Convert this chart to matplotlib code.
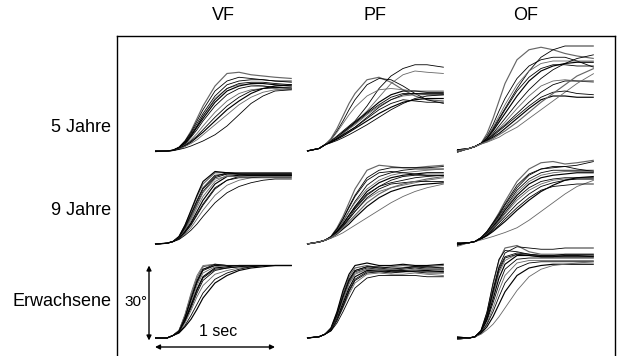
import matplotlib
matplotlib.use("Agg")
import matplotlib.pyplot as plt
from matplotlib.lines import Line2D

plt.rcParams['font.family'] = ['Liberation Sans', 'DejaVu Sans']

# ---------------- data ----------------
columns = ["VF", "PF", "OF"]
rows = ["5 Jahre", "9 Jahre", "Erwachsene"]

# time samples (s)
T = [0, 0.1, 0.15, 0.2, 0.25, 0.3, 0.35, 0.4, 0.5, 0.6, 0.7, 0.8, 0.9, 1.0, 1.14]

# angle traces (deg), one list per trial
VF_5 = [
    [0, 0, 0.3, 1.5, 4, 8, 13, 18, 26, 31, 31.5, 30.5, 30, 29.5, 29],
    [0, 0, 0.3, 1.5, 4, 7.5, 12, 16.5, 24, 28, 29.5, 29, 28.5, 28, 27.5],
    [-0.3, 0, 0.4, 1.5, 3.5, 7, 11, 15, 22, 26.5, 28, 28.5, 28.5, 28, 28],
    [0, 0, 0.3, 1.2, 3, 6, 10, 14, 21, 25, 26.5, 26.5, 26, 25.5, 25],
    [0, 0, 0.3, 1.2, 3, 6, 9.5, 13, 19.5, 24, 26, 27, 27, 26.5, 26],
    [0, 0, 0.3, 1.2, 2.8, 5.5, 8.5, 12, 18, 22.5, 25, 26, 26, 25.5, 25],
    [0, 0, 0.2, 1, 2.5, 4.5, 7, 10, 15.5, 20, 23, 24.5, 25, 25, 24.5],
    [0, 0, 0.2, 1, 2.3, 4, 6, 8.5, 13.5, 18, 21.5, 24, 25, 25.5, 25.5],
    [0, 0, 0.2, 0.9, 2, 3.5, 5.5, 7.5, 12, 16.5, 20, 23, 25, 26, 26.5],
    [0, 0, 0.2, 0.8, 1.8, 3, 4.5, 6.5, 10.5, 14.5, 18.5, 21.5, 23.5, 24.5, 25],
    [-0.2, 0, 0.3, 1.3, 3.5, 6.5, 10, 14, 20.5, 25, 27, 27.5, 27.5, 27, 26.5],
    [0, 0, 0.2, 0.6, 1.2, 2, 3, 4, 6.5, 10, 14.5, 19, 22, 24, 24.5],
]
PF_5 = [
    [0, 1, 2.5, 5, 9, 14, 19, 23, 28.5, 29.5, 27.5, 24.5, 22, 20.5, 20],
    [0, 1, 2.5, 4.5, 8, 12, 16.5, 20.5, 26.5, 29, 28.5, 26, 23, 20.5, 19],
    [0, 1, 2.5, 4, 6, 8, 10, 12, 18, 25, 30, 33, 34.5, 34.5, 33.5],
    [0, 1, 2.5, 4, 5.5, 7.5, 9.5, 11.5, 16, 21.5, 27, 30.5, 32, 31.5, 31],
    [0, 1, 2.5, 4, 5.5, 7.5, 9.5, 11.5, 15.5, 19.5, 22.5, 24, 24, 23.5, 23.5],
    [0, 1, 2.5, 4, 5.5, 7, 9, 11, 15, 18.5, 21.5, 23, 23, 22.5, 22.5],
    [0, 1, 2.5, 3.8, 5.3, 7, 8.8, 10.5, 14.5, 18, 20.5, 22, 22.5, 22.5, 22.5],
    [0, 1, 2.5, 3.7, 5, 6.5, 8, 9.5, 13, 16.5, 19, 20.5, 20, 19.5, 19.5],
    [0, 1, 2.5, 3.5, 4.7, 6, 7.5, 9, 12, 15, 17.5, 19.5, 20.5, 21, 21],
    [0, 1, 2.5, 4.5, 7.5, 11, 14.5, 17.5, 22, 24.5, 25, 24.5, 24, 24, 24],
    [0, 1, 2.5, 3.8, 5, 6.5, 8, 9.5, 13.5, 17.5, 20.5, 22.5, 23, 23, 23],
    [0, 1, 2.5, 3.3, 4.2, 5.3, 6.5, 7.8, 10.5, 13.5, 16.5, 19, 21, 22, 22.5],
]
OF_5 = [
    [0, 1, 1.8, 3, 7, 13, 20, 27, 36.5, 40.5, 41.5, 40.5, 39, 38, 37],
    [-0.5, 1, 1.8, 3, 5.5, 9, 13, 17, 25, 32, 37.5, 40.5, 42, 42, 42],
    [0, 1, 1.8, 3, 6, 10.5, 16, 21, 29, 34, 36.5, 37.5, 37.5, 36, 33.5],
    [0.5, 1, 1.8, 3, 5.5, 9.5, 14, 18.5, 26.5, 32, 35, 36, 36, 36, 36],
    [0, 1, 1.8, 3, 5, 8, 11.5, 15, 22, 28, 32, 34, 35, 35.5, 35.5],
    [-0.5, 1, 1.8, 3, 4.5, 7, 10, 13, 19, 24.5, 29, 32.5, 35, 37, 38.5],
    [0, 1, 1.8, 3, 4.5, 6.5, 9, 11.5, 17, 22, 26, 28, 28.5, 28, 27.5],
    [0.5, 1, 1.8, 3, 4.5, 6.5, 8.5, 10.5, 15, 19.5, 23.5, 26.5, 28, 28, 28],
    [0, 1, 1.8, 3, 4, 5.5, 7, 9, 13, 17, 20.5, 22, 22, 21.5, 21.5],
    [-0.5, 1, 1.8, 2.8, 3.5, 4.5, 5.5, 7, 9.5, 13, 16.5, 20, 23.5, 27, 31],
    [0, 1, 1.8, 3, 4.2, 6, 8, 10, 14, 18, 21.5, 23.5, 24, 23, 22.5],
    [0.5, 1, 1.8, 3, 5, 8.5, 12.5, 16.5, 24, 29.5, 33, 34.5, 34.5, 34, 34],
    [0, 1, 1.8, 2.8, 3.8, 5, 6.5, 8, 11.5, 15.5, 19.5, 23, 26.5, 30, 33],
]
VF_9 = [
    [0, 0.3, 1, 3, 7.5, 13, 19, 24, 28.5, 28.5, 28, 28, 28, 28, 28],
    [0, 0.3, 1, 2.8, 7, 12, 17.5, 22.5, 27.5, 28, 28, 28, 28, 28, 28],
    [0, 0.3, 1, 2.5, 6, 10.5, 16, 21, 26.5, 28, 28, 27.5, 27.5, 27.5, 27.5],
    [0, 0.3, 1, 2.5, 5.5, 9.5, 14.5, 19, 25, 27.5, 28, 28, 28, 28, 28],
    [0, 0.3, 1, 2.3, 5, 8.5, 13, 17.5, 24, 27, 27.5, 27.5, 27.5, 27.5, 27.5],
    [0, 0.3, 1, 2.2, 4.5, 7.5, 11.5, 15.5, 22, 25.5, 27, 27.5, 27.5, 27.5, 27.5],
    [0, 0.3, 1, 2, 4, 6.5, 10, 13.5, 19.5, 23.5, 25.5, 26.5, 27, 27, 27],
    [0, 0.3, 0.9, 1.8, 3.5, 5.5, 8, 11, 16.5, 20.5, 23, 24.5, 25.5, 26, 26],
    [0, 0.3, 1, 3, 7.5, 13.5, 19.5, 25, 29, 28.5, 28, 28, 28, 28, 28],
    [0, 0.3, 1, 2.5, 6, 10.5, 15.5, 20.5, 26, 27, 27, 27, 27, 27, 27],
    [0, 0.3, 1, 2.6, 6.5, 11.5, 17, 22, 27, 28.5, 28.5, 28.5, 28.5, 28.5, 28.5],
    [0, 0.3, 1, 2.2, 4.8, 8, 12, 16, 22.5, 25.5, 26.5, 26.5, 26.5, 26.5, 26.5],
]
PF_9 = [
    [0, 0.8, 1.5, 3, 6.5, 11, 16.5, 22, 29.5, 31.5, 31, 30.5, 30.5, 31, 31.5],
    [0, 0.8, 1.5, 3, 6, 10, 15, 19.5, 26.5, 29.5, 30.5, 30.5, 30.5, 30.5, 31],
    [0, 0.8, 1.5, 2.8, 5.5, 9, 13, 17, 23.5, 27, 28.5, 29.5, 30, 30, 30],
    [0, 0.8, 1.5, 2.8, 5.5, 9, 13, 16.5, 22, 25.5, 27.5, 28.5, 29, 29.5, 30],
    [0, 0.8, 1.5, 2.7, 5, 8, 11.5, 15, 21, 24.5, 26.5, 27.5, 28, 28.5, 28.5],
    [0, 0.8, 1.5, 2.7, 5, 8, 11.5, 14.5, 20, 23, 24.5, 25.5, 26.5, 27, 27.5],
    [0, 0.8, 1.5, 2.6, 4.5, 7, 10, 13, 18, 21, 22.5, 23.5, 24.5, 25.5, 26.5],
    [0, 0.8, 1.5, 2.6, 4.5, 7, 10, 13, 18.5, 22, 24, 24.5, 25, 25, 25],
    [0, 0.8, 1.5, 2.5, 4, 6, 8, 10.5, 15, 18.5, 21, 22.5, 23.5, 24, 24.5],
    [0, 0.8, 1.5, 2.3, 3.3, 4.5, 6, 7.5, 10.5, 13.5, 16.5, 19, 21, 22.5, 24],
    [0, 0.8, 1.5, 2.9, 6, 10, 14.5, 19, 25.5, 28.5, 29, 28.5, 28, 27.5, 27.5],
    [0, 0.8, 1.5, 2.6, 4.8, 7.5, 10.5, 14, 19.5, 23, 25.5, 27, 27.5, 27.5, 27.5],
    [0, 0.8, 1.5, 2.5, 4.2, 6.5, 9, 11.5, 16.5, 20, 22.5, 24, 25, 26, 27],
]
OF_9 = [
    [0, 0.5, 1, 2.5, 5, 8.5, 12.5, 17, 25, 30, 32.5, 33, 32, 32.5, 33.5],
    [-0.5, 0.5, 1, 2.5, 5, 8, 11.5, 15.5, 22.5, 27.5, 30, 31, 31, 30, 29],
    [0, 0.5, 1, 2.5, 4.5, 7.5, 11, 14.5, 21.5, 26, 28.5, 29.5, 29.5, 29.5, 29.5],
    [0.5, 0.5, 1, 2.5, 4.5, 7.5, 10.5, 14, 20.5, 25, 27.5, 28.5, 29, 29, 29],
    [0, 0.5, 1, 2.4, 4.3, 7, 10, 13.5, 19.5, 24, 26.5, 27.5, 28, 28.5, 28.5],
    [-0.5, 0.5, 1, 2.3, 4, 6.5, 9.5, 12.5, 18.5, 22.5, 25, 26, 26.5, 26.5, 26.5],
    [0, 0.5, 1, 2.3, 4, 6.5, 9, 12, 17.5, 21.5, 24, 25.5, 26, 26, 26],
    [0.5, 0.5, 1, 2.2, 3.7, 6, 8.5, 11, 16, 20, 23, 24.5, 25.5, 26, 26],
    [0, 0.5, 1, 2, 3.3, 5, 7, 9, 13.5, 17.5, 21, 23.5, 25.5, 26.5, 27],
    [-1, 0.5, 1, 1.6, 2.3, 3, 3.8, 4.6, 6.5, 9.5, 13, 16.5, 20, 23, 25.5],
    [0, 0.5, 1, 2.5, 5, 8.5, 12, 16, 23.5, 28, 30, 30.5, 31, 31.5, 33],
    [0, 0.5, 1, 2.1, 3.5, 5.5, 7.5, 10, 14.5, 18.5, 21.5, 23, 23.5, 24, 24],
]
VF_E = [
    [0, 0, 1, 3, 9, 17, 24, 28.5, 29.5, 29, 29, 29, 29, 29, 29],
    [0, 0, 1, 3, 8.5, 16, 23, 27.5, 29, 29, 29, 29, 29, 29, 29],
    [0, 0, 1, 2.8, 8, 15, 22, 27, 29, 29, 29, 29, 29, 29, 29],
    [0, 0, 1, 2.7, 7.5, 14, 21, 26, 28.5, 29, 29, 29, 29, 29, 29],
    [0, 0, 1, 2.6, 7, 13, 19.5, 24.5, 28, 28.5, 29, 29, 29, 29, 29],
    [0, 0, 1, 2.5, 6.5, 12, 18, 23, 27, 28, 28.5, 29, 29, 29, 29],
    [0, 0, 1, 2.4, 6, 11, 16.5, 21, 25.5, 27, 28, 28.5, 29, 29, 29],
    [0, 0, 1, 2.2, 5, 9, 13.5, 18, 23.5, 26, 27.5, 28.5, 29, 29, 29],
    [0, 0, 1, 2, 4.5, 7.5, 11.5, 16, 22, 25, 27, 28, 28.5, 29, 29],
    [0, 0, 1, 3, 9.5, 18, 25, 29, 29.5, 29, 29, 29, 29, 29, 29],
    [0, 0, 1, 2.8, 8, 15.5, 22.5, 27.5, 29.5, 29, 29, 29, 29, 29, 29],
    [0, 0, 1, 2.5, 7, 13, 19, 24, 27.5, 28, 28.5, 28.5, 29, 29, 29],
]
PF_E = [
    [0, 0.5, 1.5, 4, 10, 18, 24.5, 28, 29, 28, 28.5, 29, 28.5, 28.5, 29],
    [0, 0.5, 1.5, 3.8, 9.5, 17, 23.5, 27, 28.5, 28, 27.5, 28, 28.5, 28, 28],
    [0, 0.5, 1.5, 3.5, 9, 16, 22.5, 26.5, 28, 27.5, 27, 27.5, 28, 27.5, 27.5],
    [0, 0.5, 1.5, 3.5, 8.5, 15, 21.5, 25.5, 27.5, 27.5, 27, 27, 27.5, 27.5, 27],
    [0, 0.5, 1.5, 3.3, 8, 14, 20, 24.5, 27, 27, 26.5, 26.5, 27, 27, 26.5],
    [0, 0.5, 1.5, 3.2, 7.5, 13, 19, 23.5, 26.5, 26.5, 26, 26.5, 26.5, 26, 26],
    [0, 0.5, 1.5, 3, 7, 12, 17.5, 22, 25.5, 26, 25.5, 25.5, 26, 25.5, 25],
    [0, 0.5, 1.5, 2.8, 6, 10.5, 15.5, 20, 24, 25, 25, 25, 25, 24.5, 24.5],
    [0, 0.5, 1.5, 4, 10.5, 19, 25.5, 29, 30, 29, 29, 29.5, 29, 29, 29.5],
    [0, 0.5, 1.5, 3.5, 8.5, 15.5, 22, 26, 27.5, 27, 27.5, 27, 27, 27.5, 27.5],
    [0, 0.5, 1.5, 3, 7, 12.5, 18.5, 23, 26, 26.5, 27, 27, 26.5, 26.5, 26.5],
    [0, 0.5, 1.5, 3.6, 9, 16.5, 23, 27, 28.5, 28.5, 28, 28, 28.5, 28.5, 28],
]
OF_E = [
    [0, 0, 0.5, 3, 10, 21, 31, 36, 37, 34.5, 33.5, 33.5, 33.5, 33.5, 33.5],
    [-0.5, 0, 0.5, 2.8, 9, 19, 28.5, 34, 36.5, 36, 35.5, 35.5, 36, 36, 36],
    [0, 0, 0.5, 2.8, 9, 19, 28, 32.5, 34, 33.5, 33, 33, 33, 33, 33],
    [0.5, 0, 0.5, 2.5, 8, 17, 26, 31, 33.5, 33.5, 33, 33, 33, 33, 33],
    [0, 0, 0.5, 2.5, 7.5, 15.5, 24, 29.5, 33, 33, 32.5, 32.5, 32.5, 32.5, 32.5],
    [-0.5, 0, 0.5, 2.3, 7, 14, 21.5, 27.5, 31.5, 32, 32, 32, 32, 32, 32],
    [0, 0, 0.5, 2.2, 6, 12, 19, 25, 30, 31, 31, 31, 31, 31, 31],
    [0.5, 0, 0.5, 2, 5.5, 10.5, 16.5, 22, 28, 30, 30.5, 30.5, 30.5, 30.5, 30.5],
    [0, 0, 0.5, 1.8, 4.5, 8.5, 13.5, 18.5, 25, 28, 29, 29.5, 29.5, 29.5, 29.5],
    [-0.5, 0, 0.5, 1.5, 3.3, 5.5, 8.5, 12, 19, 24.5, 27.5, 29, 29.5, 30, 30.5],
    [0, 0, 0.5, 3, 10.5, 22, 31.5, 35, 34.5, 33.5, 33, 33, 33.5, 33.5, 33.5],
    [0, 0, 0.5, 2.6, 8.5, 18, 27, 32, 33.5, 33, 32.5, 32.5, 33, 33, 32.5],
]

PANELS = [[VF_5, PF_5, OF_5], [VF_9, PF_9, OF_9], [VF_E, PF_E, OF_E]]

SCALE_SEC = 1.0
SCALE_DEG = 30
SCALE_SEC_LABEL = "1 sec"
SCALE_DEG_LABEL = "30°"

# ---------------- layout (pixels) ----------------
W, H = 617, 356
fig = plt.figure(figsize=(W / 100, H / 100), dpi=100)

col_t0 = [155, 307, 457]      # x pixel of t=0
row_base = [151, 244, 338]    # y pixel (from top) of 0 deg
PX_PER_S = 120.0
PX_PER_DEG = 2.5
XL = (-0.15, 1.25)
YL = (-6, 46)


def fx(px):
    return px / W


def fy(py):
    return 1 - py / H


axes = {}
for r in range(3):
    for c in range(3):
        left = col_t0[c] + XL[0] * PX_PER_S
        width = (XL[1] - XL[0]) * PX_PER_S
        bottom_px = row_base[r] - YL[0] * PX_PER_DEG
        height = (YL[1] - YL[0]) * PX_PER_DEG
        ax = fig.add_axes([fx(left), fy(bottom_px), width / W, height / H])
        ax.set_xlim(*XL)
        ax.set_ylim(*YL)
        ax.axis('off')
        ax.patch.set_alpha(0)
        for i, trace in enumerate(PANELS[r][c]):
            col = '#000000' if i % 3 else '#666666'
            lw = 0.6 if i % 4 else 0.85
            ax.plot(T, trace, color=col, lw=lw, solid_capstyle='butt',
                    clip_on=False)
        axes[(r, c)] = ax

# column titles
for c, name in enumerate(columns):
    fig.text(fx(col_t0[c] + 0.57 * PX_PER_S), fy(16), name, ha='center',
             va='center', fontsize=13)

# row labels
row_label_y = [128, 211, 302]
for r, name in enumerate(rows):
    fig.text(fx(111), fy(row_label_y[r]), name, ha='right', va='center',
             fontsize=13)

# frame
for (x0, y0, x1, y1) in [(117, 36, 615, 36), (117, 36, 117, 356),
                         (615, 36, 615, 356)]:
    fig.add_artist(Line2D([fx(x0), fx(x1)], [fy(y0), fy(y1)],
                          transform=fig.transFigure, color='black', lw=1.0))

# scale bars in bottom-left panel
ax = axes[(2, 0)]
ax.annotate('', xy=(-0.05, SCALE_DEG - 1), xytext=(-0.05, -1),
            arrowprops=dict(arrowstyle='<|-|>', color='black', lw=1.0,
                            mutation_scale=7, shrinkA=0, shrinkB=0),
            annotation_clip=False)
ax.annotate('', xy=(SCALE_SEC, -3.6), xytext=(0, -3.6),
            arrowprops=dict(arrowstyle='<|-|>', color='black', lw=1.0,
                            mutation_scale=7, shrinkA=0, shrinkB=0),
            annotation_clip=False)
ax.text(0.53, 2.4, SCALE_SEC_LABEL, ha='center', va='center', fontsize=11.5,
        clip_on=False)
ax.text(-0.065, 14.4, SCALE_DEG_LABEL, ha='right', va='center', fontsize=11,
        clip_on=False)

fig.savefig('out.png', dpi=100)
